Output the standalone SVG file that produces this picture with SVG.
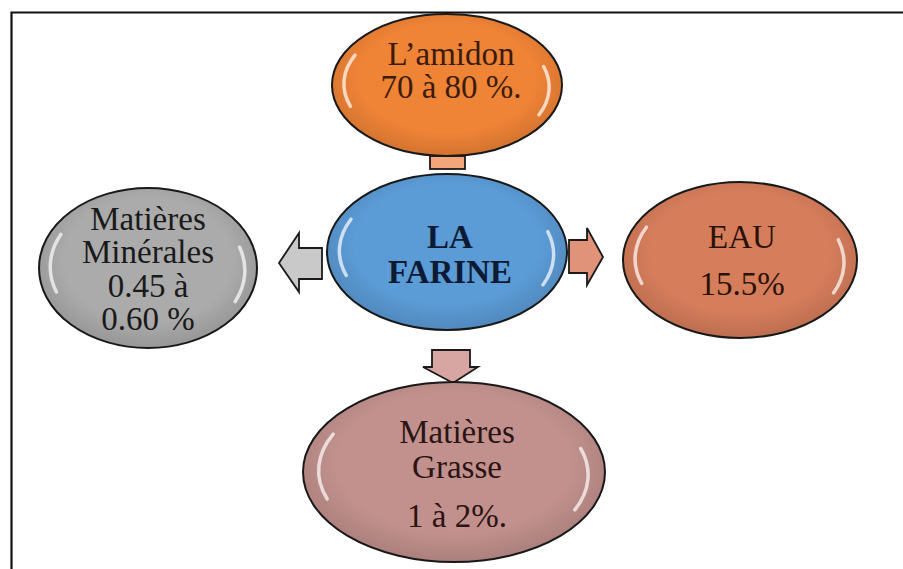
<svg xmlns="http://www.w3.org/2000/svg" width="903" height="569" viewBox="0 0 903 569">
<style>
.bub{stroke:#1a1a1a;stroke-width:2}
.shade{fill:url(#shade);stroke:none}
.hl{fill:none;stroke:#ffffff;stroke-width:3.5;stroke-linecap:round;opacity:0.7}
.t{font-size:33px;text-anchor:middle}
.arr{stroke:#1a1a1a;stroke-width:1.8;stroke-linejoin:miter}
</style>
<defs>
<radialGradient id="shade" cx="0.5" cy="0.45" r="0.55">
<stop offset="0.7" stop-color="#000" stop-opacity="0"/>
<stop offset="1" stop-color="#000" stop-opacity="0.12"/>
</radialGradient>
</defs>
<rect width="903" height="569" fill="#fff"/>
<path d="M11.5,569 V12.5 H903" fill="none" stroke="#111" stroke-width="2.2"/>

<g id="connectors">
<rect class="arr" x="430" y="156" width="35" height="13" fill="#f2a679"/>
<path class="arr" d="M322,248 H299 V233 L279,263 L299,292 V279 H322 Z" fill="#c9c9c9"/>
<path class="arr" d="M569,240 H587 V228 L603,257 L587,285 V273 H569 Z" fill="#e1937a"/>
<path class="arr" d="M432,350 H470 V367 H478 L453,383 L423,367 H432 Z" fill="#d7a6a3"/>
</g>

<g id="amidon">
<ellipse class="bub" cx="447" cy="85" rx="115" ry="71" fill="#ef8336"/>
<ellipse class="shade" cx="447" cy="85" rx="115" ry="71"/>
<path class="hl" d="M355,55.2 A103.5,63.9 0 0 0 350.4,106.3"/>
<path class="hl" d="M543.6,66.5 A103.5,63.9 0 0 1 539,114.8"/>
<text class="t" font-family="Liberation Serif, Times New Roman, serif" x="451" y="65" fill="#3b1c0c">L’amidon</text>
<text class="t" font-family="Liberation Serif, Times New Roman, serif" x="451" y="98" fill="#3b1c0c">70 à 80 %.</text>
</g>

<g id="farine">
<ellipse class="bub" cx="447" cy="252" rx="120" ry="78" fill="#5b9bd6"/>
<ellipse class="shade" cx="447" cy="252" rx="120" ry="78"/>
<path class="hl" d="M351,219.2 A108,70.2 0 0 0 346.2,275.4"/>
<path class="hl" d="M547.8,231.7 A108,70.2 0 0 1 543,284.8"/>
<text class="t" font-family="Liberation Serif, Times New Roman, serif" font-weight="bold" x="450" y="248" fill="#0d1a33">LA</text>
<text class="t" font-family="Liberation Serif, Times New Roman, serif" font-weight="bold" x="450" y="283" fill="#0d1a33">FARINE</text>
</g>

<g id="minerales">
<ellipse class="bub" cx="148" cy="268" rx="109" ry="80" fill="#ababab"/>
<ellipse class="shade" cx="148" cy="268" rx="109" ry="80"/>
<path class="hl" d="M60.8,234.4 A98.1,72 0 0 0 56.4,292"/>
<path class="hl" d="M239.6,247.2 A98.1,72 0 0 1 235.2,301.6"/>
<text class="t" font-family="Liberation Serif, Times New Roman, serif" x="148" y="230" fill="#1a1a1a">Matières</text>
<text class="t" font-family="Liberation Serif, Times New Roman, serif" x="148" y="263" fill="#1a1a1a">Minérales</text>
<text class="t" font-family="Liberation Serif, Times New Roman, serif" x="148" y="297" fill="#1a1a1a">0.45 à</text>
<text class="t" font-family="Liberation Serif, Times New Roman, serif" x="148" y="330" fill="#1a1a1a">0.60 %</text>
</g>

<g id="eau">
<ellipse class="bub" cx="740" cy="260" rx="117" ry="78" fill="#d67d5b"/>
<ellipse class="shade" cx="740" cy="260" rx="117" ry="78"/>
<path class="hl" d="M646.4,227.2 A105.3,70.2 0 0 0 641.7,283.4"/>
<path class="hl" d="M838.3,239.7 A105.3,70.2 0 0 1 833.6,292.8"/>
<text class="t" font-family="Liberation Serif, Times New Roman, serif" x="742" y="248" fill="#2a1208">EAU</text>
<text class="t" font-family="Liberation Serif, Times New Roman, serif" x="742" y="295" fill="#2a1208">15.5%</text>
</g>

<g id="grasse">
<ellipse class="bub" cx="454" cy="472" rx="151" ry="90" fill="#c2918d"/>
<ellipse class="shade" cx="454" cy="472" rx="151" ry="90"/>
<path class="hl" d="M333.2,434.2 A135.9,81 0 0 0 327.2,499"/>
<path class="hl" d="M580.8,448.6 A135.9,81 0 0 1 574.8,509.8"/>
<text class="t" font-family="Liberation Serif, Times New Roman, serif" x="457" y="443" fill="#2a1414">Matières</text>
<text class="t" font-family="Liberation Serif, Times New Roman, serif" x="457" y="478" fill="#2a1414">Grasse</text>
<text class="t" font-family="Liberation Serif, Times New Roman, serif" x="457" y="527" fill="#2a1414">1 à 2%.</text>
</g>
</svg>
